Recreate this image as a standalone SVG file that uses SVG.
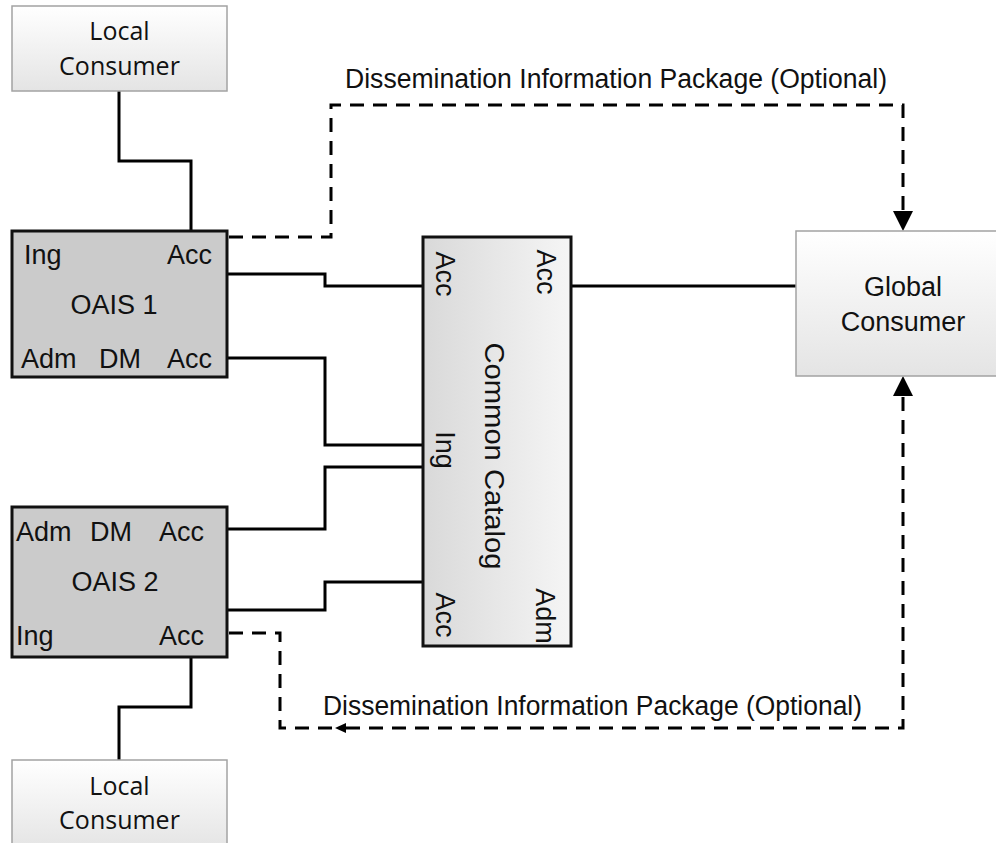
<svg xmlns="http://www.w3.org/2000/svg" width="996" height="843" viewBox="0 0 996 843">
<style>
.lc{fill:url(#gV);stroke:#a3a3a3;stroke-width:1.5}
.oais{fill:#cbcbcb;stroke:#111;stroke-width:3}
.cc{fill:url(#gH);stroke:#111;stroke-width:3}
.t{font-family:"Liberation Sans",Arial,sans-serif;font-size:27px;fill:#111}
.tc{font-family:"Open Sans","Noto Sans",sans-serif;font-size:25px;fill:#111;text-anchor:middle}
.solid{fill:none;stroke:#000;stroke-width:3}
.dash{fill:none;stroke:#000;stroke-width:3;stroke-dasharray:14 9}
</style>
<defs>
<linearGradient id="gV" x1="0" y1="0" x2="0" y2="1"><stop offset="0" stop-color="#ffffff"/><stop offset="1" stop-color="#e4e4e4"/></linearGradient>
<linearGradient id="gH" x1="0" y1="0" x2="1" y2="0"><stop offset="0" stop-color="#d9d9d9"/><stop offset="1" stop-color="#f5f5f5"/></linearGradient>
<marker id="big" viewBox="0 -10 20 20" refX="0" refY="0" markerWidth="20" markerHeight="20" markerUnits="userSpaceOnUse" orient="auto"><path d="M0,-10 L20,0 L0,10 z" fill="#000"/></marker>
<marker id="small" viewBox="0 -5 11 10" refX="0" refY="0" markerWidth="11" markerHeight="10" markerUnits="userSpaceOnUse" orient="auto-start-reverse"><path d="M0,-5 L11,0 L0,5 z" fill="#000"/></marker>
</defs>

<g id="connectors">
<path class="solid" d="M119,91 V161 H191 V231"/>
<path class="solid" d="M227,274 H325 V286 H423"/>
<path class="solid" d="M227,358 H325 V445 H423"/>
<path class="solid" d="M227,529 H325 V467 H423"/>
<path class="solid" d="M227,610 H325 V582 H423"/>
<path class="solid" d="M571,286 H796"/>
<path class="solid" d="M191,657 V707 H119 V760"/>
<path class="dash" d="M229,237 H331 V105 H903 V211" marker-end="url(#big)"/>
<path class="dash" d="M229,633 H280 V728 H334"/>
<path class="dash" d="M346,728 H903 V396" marker-start="url(#small)" marker-end="url(#big)"/>
<text class="t" x="345" y="88" font-size="26" textLength="542" lengthAdjust="spacingAndGlyphs">Dissemination Information Package (Optional)</text>
<text class="t" x="323" y="715" font-size="26" textLength="539" lengthAdjust="spacingAndGlyphs">Dissemination Information Package (Optional)</text>
</g>

<g id="local-consumer-1">
<rect class="lc" x="12" y="6" width="215" height="85"/>
<text class="tc" x="119.5" y="40">Local</text>
<text class="tc" x="119.5" y="75">Consumer</text>
</g>

<g id="oais-1">
<rect class="oais" x="12" y="231" width="215" height="146"/>
<text class="t" x="24" y="264">Ing</text>
<text class="t" x="212" y="264" text-anchor="end">Acc</text>
<text class="t" x="114" y="314" text-anchor="middle" font-size="28">OAIS 1</text>
<text class="t" x="21" y="368">Adm</text>
<text class="t" x="99" y="368">DM</text>
<text class="t" x="212" y="368" text-anchor="end">Acc</text>
</g>

<g id="oais-2">
<rect class="oais" x="12" y="507" width="215" height="150"/>
<text class="t" x="16" y="541">Adm</text>
<text class="t" x="90" y="541">DM</text>
<text class="t" x="204" y="541" text-anchor="end">Acc</text>
<text class="t" x="115" y="591" text-anchor="middle" font-size="28">OAIS 2</text>
<text class="t" x="16" y="645">Ing</text>
<text class="t" x="204" y="645" text-anchor="end">Acc</text>
</g>

<g id="local-consumer-2">
<rect class="lc" x="12" y="760" width="215" height="90"/>
<text class="tc" x="119.5" y="795">Local</text>
<text class="tc" x="119.5" y="829">Consumer</text>
</g>

<g id="common-catalog">
<rect class="cc" x="423" y="237" width="148" height="409"/>
<text class="t" transform="translate(436,274) rotate(90)" text-anchor="middle" font-size="26">Acc</text>
<text class="t" transform="translate(537,272) rotate(90)" text-anchor="middle" font-size="26">Acc</text>
<text class="t" transform="translate(485,456) rotate(90)" text-anchor="middle" font-size="27" textLength="227" lengthAdjust="spacingAndGlyphs">Common Catalog</text>
<text class="t" transform="translate(436,450) rotate(90)" text-anchor="middle" font-size="26">Ing</text>
<text class="t" transform="translate(436,615) rotate(90)" text-anchor="middle" font-size="26">Acc</text>
<text class="t" transform="translate(536,616) rotate(90)" text-anchor="middle" font-size="26">Adm</text>
</g>

<g id="global-consumer">
<rect class="lc" x="796" y="231" width="220" height="145"/>
<text class="t" x="903" y="296" text-anchor="middle">Global</text>
<text class="t" x="903" y="331" text-anchor="middle">Consumer</text>
</g>
</svg>
